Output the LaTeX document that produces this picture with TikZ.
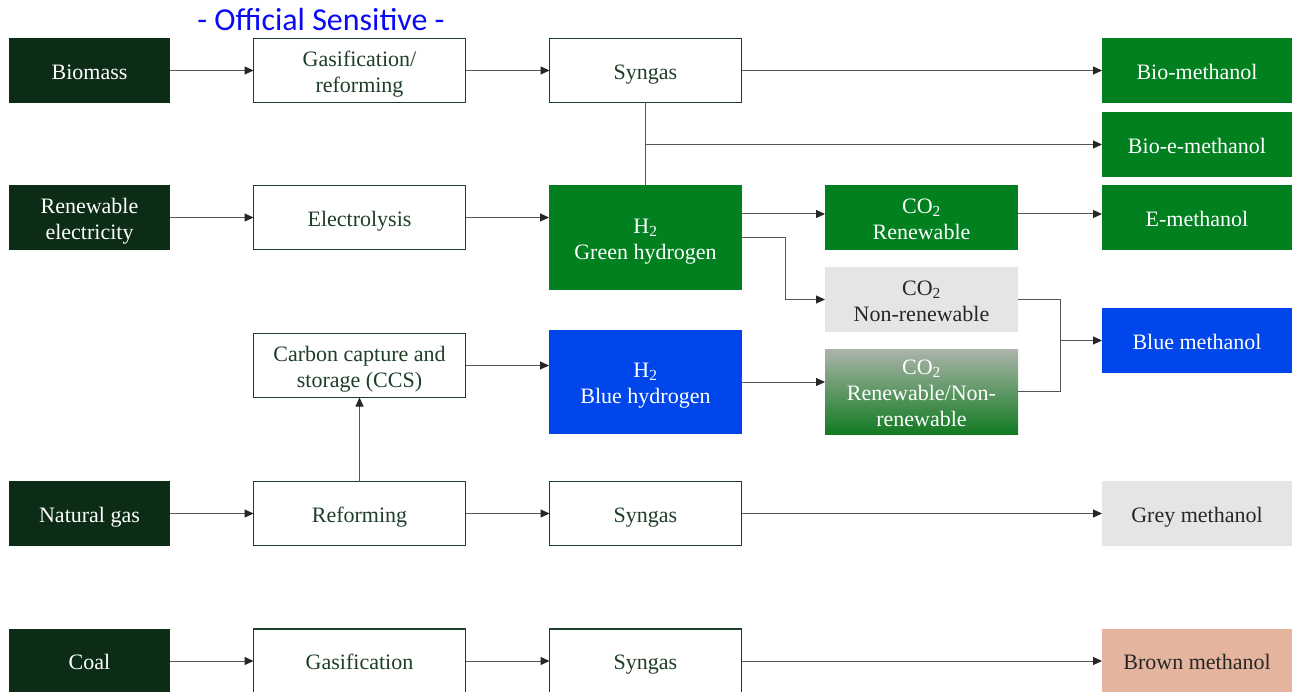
\documentclass[tikz,border=0pt]{standalone}
\usepackage{fontspec}
\setmainfont{Liberation Serif}
\newfontfamily\hdrfont{Carlito}
\usetikzlibrary{arrows.meta}

\definecolor{srcgreen}{RGB}{12,44,22}
\definecolor{procgreen}{RGB}{30,62,40}
\definecolor{greenbox}{RGB}{0,128,30}
\definecolor{bluebox}{RGB}{0,70,235}
\definecolor{lightgrey}{RGB}{229,229,229}
\definecolor{mixtop}{RGB}{172,180,170}
\definecolor{mixbot}{RGB}{18,122,34}
\definecolor{brownbox}{RGB}{228,180,158}
\definecolor{linegrey}{RGB}{85,85,85}
\definecolor{hdrblue}{RGB}{10,10,245}

\newcommand{\toprule}{\rule{0pt}{22pt}}
\newcommand{\botrule}{\rule[-4.6pt]{0pt}{4.6pt}}

\begin{document}
\begin{tikzpicture}[x=1pt,y=-1pt]

    \tikzset{box/.style={%
      rectangle,%
      inner sep=0pt,%
      outer sep=0pt,%
      align=center,%
      execute at begin node=\toprule,%
      execute at end node=\botrule,%
      font=\fontsize{22}{26}\selectfont}%
    };

    \tikzset{lines/.style={execute at begin node=\rule{0pt}{#1}}, lines/.default=48pt};
    \tikzset{source/.style={box, fill=srcgreen, text=white, minimum width=161pt, minimum height=65pt}};
    \tikzset{process/.style={box, draw=procgreen, line width=1.2pt, fill=white, text=procgreen, minimum width=212pt, minimum height=64pt}};
    \tikzset{mid/.style={box, minimum width=193pt, minimum height=65pt}};
    \tikzset{product/.style={box, minimum width=190pt, minimum height=65pt}};
    \tikzset{arr/.style={draw=linegrey, line width=1pt, -{Triangle[length=9pt,width=8pt,color=black!85]}}};
    \tikzset{link/.style={draw=linegrey, line width=1pt}};

    \useasboundingbox (0,0) rectangle (1292,692);

    \node [font=\hdrfont\fontsize{32}{36}\selectfont, text=hdrblue] (hdr) at (321,20) {- Official Sensitive -};

    %%%%%%%%%%%
    % sources %
    %%%%%%%%%%%
    \node [source] (bio) at (89.5,70.5) {Biomass};
    \node [source, lines] (renel) at (89.5,217.5) {Renewable\\electricity};
    \node [source] (natgas) at (89.5,513.5) {Natural gas};
    \node [source] (coal) at (89.5,661) {Coal};

    %%%%%%%%%%%%%
    % processes %
    %%%%%%%%%%%%%
    \node [process, lines] (gasref) at (359.5,70.5) {Gasification/\\reforming};
    \node [process] (elec) at (359.5,217.5) {Electrolysis};
    \node [process, lines] (ccs) at (359.5,365.5) {Carbon capture and\\storage (CCS)};
    \node [process] (refo) at (359.5,513.5) {Reforming};
    \node [process] (gasif) at (359.5,661) {Gasification};

    %%%%%%%%%%%%%%%%%%%%%%%%
    % syngas and hydrogen %
    %%%%%%%%%%%%%%%%%%%%%%%%
    \node [process, minimum width=192pt] (synA) at (645.5,70.5) {Syngas};
    \node [mid, lines, fill=greenbox, text=white, minimum height=105pt] (hgreen) at (645.5,237.5) {H\textsubscript{2}\\Green hydrogen};
    \node [mid, lines, fill=bluebox, text=white, minimum height=104pt] (hblue) at (645.5,382) {H\textsubscript{2}\\Blue hydrogen};
    \node [process, minimum width=192pt] (synB) at (645.5,513.5) {Syngas};
    \node [process, minimum width=192pt] (synC) at (645.5,661) {Syngas};

    %%%%%%%
    % CO2 %
    %%%%%%%
    \node [mid, lines, fill=greenbox, text=white] (co2ren) at (921.5,217.5) {CO\textsubscript{2}\\Renewable};
    \node [mid, lines, fill=lightgrey, text=black!85] (co2non) at (921.5,299.5) {CO\textsubscript{2}\\Non-renewable};
    \node [mid, lines=74pt, top color=mixtop, bottom color=mixbot, text=white, minimum height=85pt] (co2mix) at (921.5,391.5) {CO\textsubscript{2}\\Renewable/Non-\\renewable};

    %%%%%%%%%%%%
    % methanol %
    %%%%%%%%%%%%
    \node [product, fill=greenbox, text=white] (biometh) at (1197,70.5) {Bio-methanol};
    \node [product, fill=greenbox, text=white] (bioemeth) at (1197,144.5) {Bio-e-methanol};
    \node [product, fill=greenbox, text=white] (emeth) at (1197,217.5) {E-methanol};
    \node [product, fill=bluebox, text=white] (bluemeth) at (1197,340.5) {Blue methanol};
    \node [product, fill=lightgrey, text=black!85] (greymeth) at (1197,513.5) {Grey methanol};
    \node [product, fill=brownbox, text=black!85] (brownmeth) at (1197,661) {Brown methanol};

    %%%%%%%%%%%%%%
    % connectors %
    %%%%%%%%%%%%%%
    \draw [arr] (bio) -- (gasref);
    \draw [arr] (gasref) -- (synA);
    \draw [arr] (synA) -- (biometh);
    \draw [link] (synA) -- (hgreen);
    \coordinate (split) at (synA.south |- bioemeth.west);
    \draw [arr] (split) -- (bioemeth);

    \draw [arr] (renel) -- (elec);
    \draw [arr] (elec) -- (elec -| hgreen.west);
    \draw [arr] (hgreen.east |- 0,214) -- (co2ren.west |- 0,214);
    \draw [arr] (hgreen.east) -- ++(43,0) |- (co2non.west);
    \draw [arr] (co2ren.east |- 0,214) -- (emeth.west |- 0,214);

    \coordinate (merge) at (1060,340.5);
    \draw [link] (co2non.east) -| (merge);
    \draw [link] (co2mix.east) -| (merge);
    \draw [arr] (merge) -- (bluemeth);

    \draw [arr] (ccs) -- (ccs -| hblue.west);
    \draw [arr] (hblue) -- (hblue -| co2mix.west);
    \draw [arr] (refo) -- (ccs);

    \draw [arr] (natgas) -- (refo);
    \draw [arr] (refo) -- (synB);
    \draw [arr] (synB) -- (greymeth);

    \draw [arr] (coal) -- (gasif);
    \draw [arr] (gasif) -- (synC);
    \draw [arr] (synC) -- (brownmeth);

  \end{tikzpicture}
\end{document}
